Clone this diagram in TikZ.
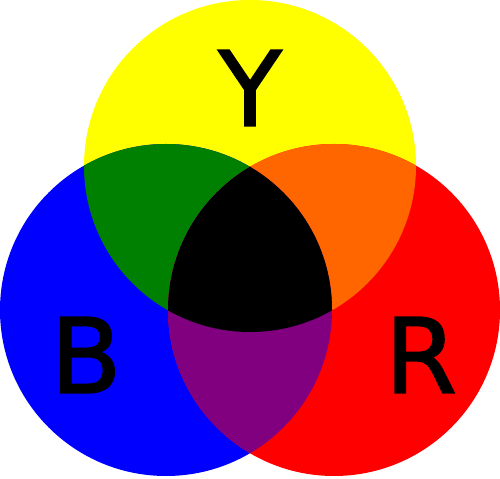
\documentclass[tikz,border=0pt]{standalone}
\usepackage{fontspec}
\setmainfont{DejaVu Sans}
\newfontfamily\lblfont[FakeBold=1.6]{DejaVu Sans}
\definecolor{ylw}{HTML}{FFFF00}
\definecolor{blu}{HTML}{0000FF}
\definecolor{rd}{HTML}{FF0000}
\definecolor{grn}{HTML}{008000}
\definecolor{orng}{HTML}{FF6600}
\definecolor{prpl}{HTML}{800080}
\tikzset{letter/.style={inner sep=0pt, font=\lblfont\fontsize{59}{59}\selectfont}}

\begin{document}
\begin{tikzpicture}

    \useasboundingbox (0,0) rectangle (10,9.56);

    % Centres
    \coordinate (y) at (5,6.24);
    \coordinate (b) at (3.32,3.36);
    \coordinate (r) at (6.68,3.36);
    \def\rad{3.32}

    % Circles
    \fill[ylw] (y) circle (\rad);
    \fill[blu] (b) circle (\rad);
    \fill[rd] (r) circle (\rad);

    % Overlaps
    \begin{scope}
        \clip (y) circle (\rad);
        \fill[grn] (b) circle (\rad);
        \fill[orng] (r) circle (\rad);
    \end{scope}
    \begin{scope}
        \clip (b) circle (\rad);
        \fill[prpl] (r) circle (\rad);
        \clip (r) circle (\rad);
        \fill[black] (y) circle (\rad);
    \end{scope}

    % Labels
    \node (ylab) [letter] at (5,7.8) {Y};
    \node (blab) [letter] at (1.72,2.46) {B};
    \node (rlab) [letter] at (8.42,2.46) {R};

\end{tikzpicture}
\end{document}
